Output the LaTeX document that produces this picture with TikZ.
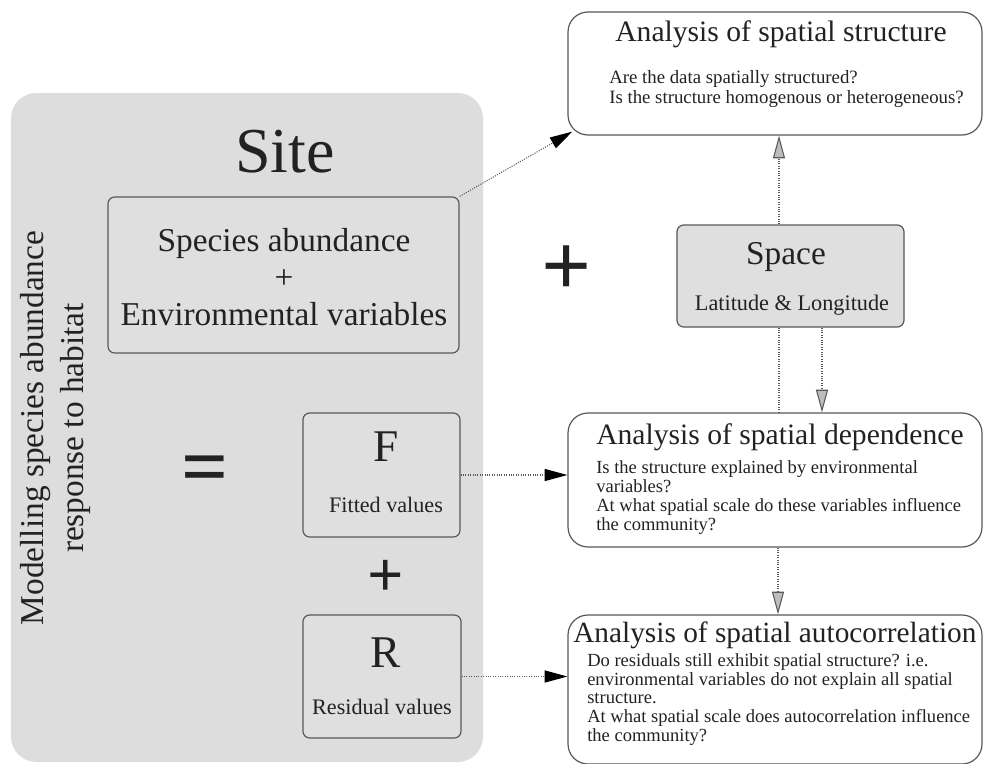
\documentclass[tikz,border=0pt]{standalone}
\usepackage{fontspec}
\setmainfont{Liberation Serif}
\usetikzlibrary{arrows.meta}
\definecolor{panelgrey}{HTML}{DDDDDD}
\definecolor{boxgrey}{HTML}{DFDFDF}
\definecolor{bordergrey}{HTML}{585858}
\definecolor{linegrey}{HTML}{5A5A5A}
\definecolor{tipgrey}{HTML}{BDBDBD}
\definecolor{txt}{HTML}{222222}
\tikzset{
  panelbox/.style={fill=panelgrey, draw=none, rounded corners=19pt, inner sep=0pt},
  gbox/.style={draw=bordergrey, fill=boxgrey, rounded corners=5pt, line width=0.9pt, inner sep=0pt},
  wbox/.style={draw=bordergrey, fill=white, rounded corners=15pt, line width=0.9pt, inner sep=0pt},
  lbl/.style={inner sep=0pt, text=txt},
  conn/.style={densely dotted, draw=linegrey, line width=0.8pt},
  blackhead/.style={-{Triangle[length=17pt,width=9pt,color=black]}},
  greyhead/.style={-{Triangle[length=17pt,width=9pt,fill=tipgrey]}},
}
\begin{document}
\begin{tikzpicture}[x=0.75pt,y=-0.75pt]
\useasboundingbox (0,0) rectangle (983,764);
% grey panel
\node[panelbox, minimum width=354pt, minimum height=501.75pt] (panel) at (247,427.5) {};
% boxes
\node[gbox, minimum width=263.25pt, minimum height=117pt] (species) at (283.5,275) {};
\node[gbox, minimum width=117.75pt, minimum height=93pt] (F) at (381.5,475) {};
\node[gbox, minimum width=118.5pt, minimum height=92.25pt] (R) at (382,676.5) {};
\node[wbox, minimum width=310.5pt, minimum height=92.25pt] (struct) at (775,73.5) {};
\node[gbox, minimum width=170.25pt, minimum height=76.5pt] (space) at (790.5,276) {};
\node[wbox, minimum width=310.5pt, minimum height=100.5pt] (dep) at (775,480) {};
\node[wbox, minimum width=310.5pt, minimum height=111.75pt] (auto) at (775,689.5) {};
% texts in panel
\node[lbl, font=\fontsize{48}{50}\selectfont] (site) at (285,152) {Site};
\node[lbl, align=center, font=\fontsize{25}{27.75}\selectfont] (speciestxt) at (284,277) {Species abundance\\+\\Environmental variables};
\node[lbl, rotate=90, align=center, font=\fontsize{25}{30}\selectfont] (modtxt) at (55,428) {Modelling species abundance\\response to habitat};
\node[lbl, font=\fontsize{62}{62}\selectfont\bfseries] (eq) at (205,475) {=};
\node[lbl, font=\fontsize{48}{48}\selectfont\bfseries] (plussmall) at (386,578) {+};
\node[lbl, font=\fontsize{66}{66}\selectfont\bfseries] (plusbig) at (567,271) {+};
\node[lbl, font=\fontsize{34}{36}\selectfont] (Fl) at (386,447) {F};
\node[lbl, font=\fontsize{16.6}{18}\selectfont] (Ft) at (386,505) {Fitted values};
\node[lbl, font=\fontsize{34}{36}\selectfont] (Rl) at (386,653) {R};
\node[lbl, font=\fontsize{16.6}{18}\selectfont] (Rt) at (382,707) {Residual values};
% space
\node[lbl, font=\fontsize{25}{27}\selectfont] (spacet) at (786,257) {Space};
\node[lbl, font=\fontsize{16.7}{18}\selectfont] (latlong) at (792,305) {Latitude \& Longitude};
% structure
\node[lbl, font=\fontsize{22.2}{24}\selectfont] (structt) at (781,34) {Analysis of spatial structure};
\node[lbl, anchor=west, align=left, font=\fontsize{14.1}{14.3}\selectfont] (structb) at (609,89) {Are the data spatially structured?\\Is the structure homogenous or heterogeneous?};
% dependence
\node[lbl, anchor=west, font=\fontsize{22.2}{24}\selectfont] (dept) at (596,437) {Analysis of spatial dependence};
\node[lbl, anchor=west, align=left, font=\fontsize{13.9}{14.25}\selectfont] (depb) at (596,498) {Is the structure explained by environmental\\variables?\\At what spatial scale do these variables influence\\the community?};
% autocorrelation
\node[lbl, anchor=west, font=\fontsize{22}{24}\selectfont] (autot) at (573,635) {Analysis of spatial autocorrelation};
\node[lbl, anchor=west, align=left, font=\fontsize{13.9}{14.06}\selectfont] (autob) at (587,699.5) {Do residuals still exhibit spatial structure? i.e.\\environmental variables do not explain all spatial\\structure.\\At what spatial scale does autocorrelation influence\\the community?};
% connectors
\coordinate (strtip) at ([xshift=3.75pt,yshift=3pt]struct.south west);
\draw[conn, blackhead] (species.north east) -- (strtip);
\draw[conn, blackhead] (F.east) -- (F.east -| dep.west);
\draw[conn, blackhead] (R.east) -- (R.east -| auto.west);
\coordinate (spn) at ([xshift=-8.625pt]space.north);
\coordinate (sps) at ([xshift=-8.625pt]space.south);
\coordinate (sps2) at ([xshift=23.625pt]space.south);
\coordinate (deps) at ([xshift=2.25pt]dep.south);
\draw[conn, greyhead] (spn) -- (spn |- struct.south);
\draw[conn] (sps) -- (sps |- dep.north);
\draw[conn, greyhead] (sps2) -- (sps2 |- dep.north);
\draw[conn, greyhead] (deps) -- (deps |- auto.north);
\end{tikzpicture}
\end{document}
